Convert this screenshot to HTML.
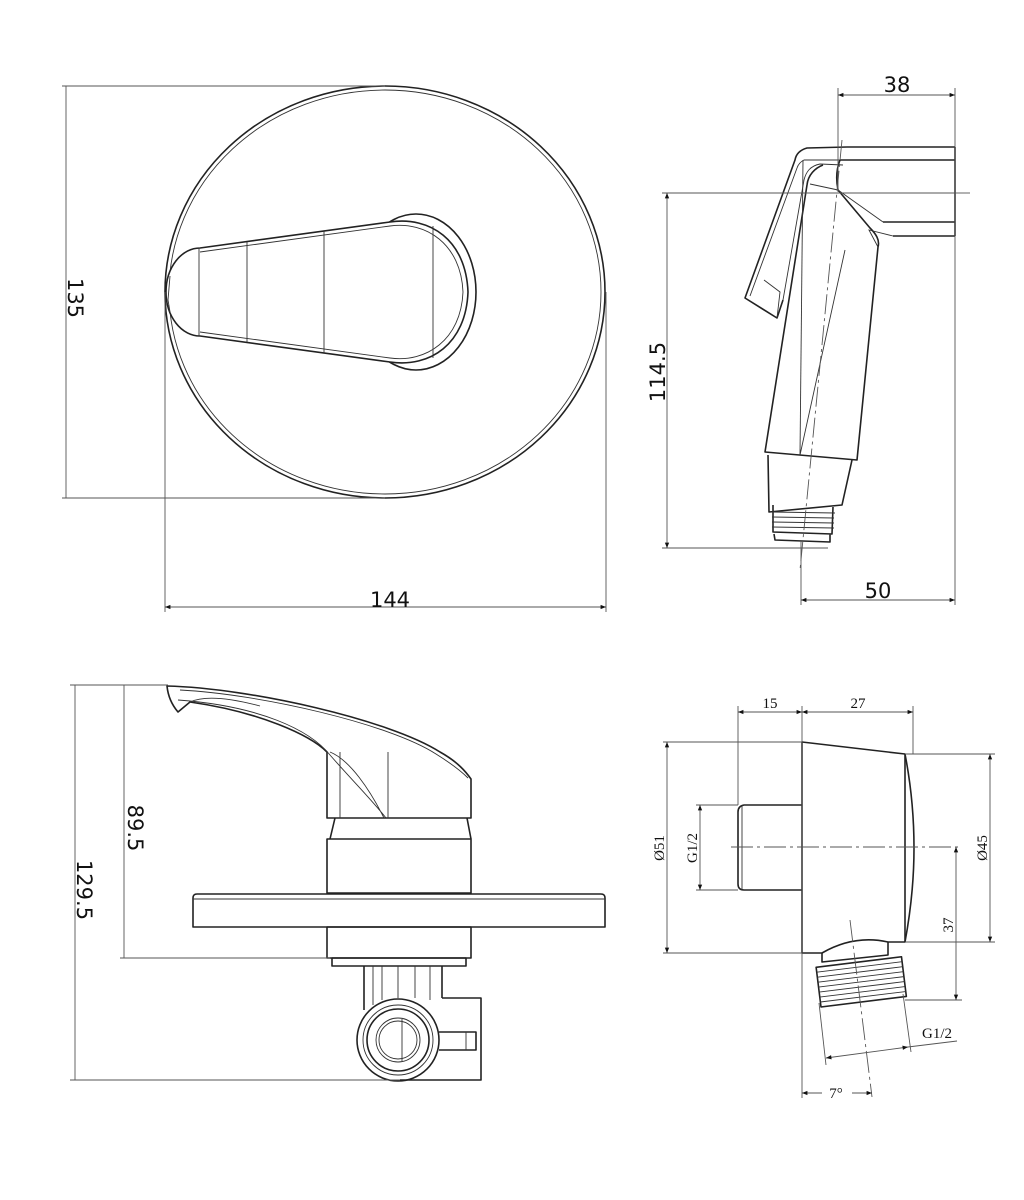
<!DOCTYPE html>
<html><head><meta charset="utf-8"><style>
html,body{margin:0;padding:0;background:#fff;}
svg{display:block;}
.l{fill:none;stroke:#222;stroke-width:1.6;stroke-linejoin:round;}
.t{fill:none;stroke:#333;stroke-width:0.9;}
.d{fill:none;stroke:#555;stroke-width:0.9;}
.s{font-family:"DejaVu Sans","Liberation Sans",sans-serif;font-size:21px;fill:#111;}
.r{font-family:"Liberation Serif",serif;font-size:15px;fill:#111;}
</style></head><body>
<svg width="1024" height="1200" viewBox="0 0 1024 1200" xmlns="http://www.w3.org/2000/svg">
<defs>
<marker id="a" viewBox="0 0 10 10" refX="10" refY="5" markerWidth="9" markerHeight="6" orient="auto-start-reverse"><path d="M0,1 L10,5 L0,9 z" fill="#111"/></marker>
</defs>

<!-- TOP LEFT -->
<ellipse class="l" cx="385" cy="292" rx="220" ry="206"/>
<ellipse class="t" cx="385" cy="292" rx="216" ry="202"/>
<ellipse class="l" cx="416" cy="292" rx="60" ry="78"/>
<path class="l" style="fill:#fff" d="M200,248 L390,222 C430,216 466,240 468,292 C466,344 430,368 390,362 L200,336 A34,44 0 0 1 200,248 Z"/>
<path class="t" d="M200,252 L390,226 C426,221 461,244 463,292 C461,340 426,363 390,358 L200,332"/>
<path class="t" d="M170,276 L168,300 L170,312"/>
<line class="t" x1="199" y1="248" x2="199" y2="336"/>
<line class="t" x1="247" y1="242" x2="247" y2="342"/>
<line class="t" x1="324" y1="231" x2="324" y2="353"/>
<line class="t" x1="433" y1="226" x2="433" y2="358"/>
<!-- dims -->
<line class="d" x1="62" y1="86" x2="385" y2="86"/>
<line class="d" x1="62" y1="498" x2="385" y2="498"/>
<line class="d" x1="66" y1="86" x2="66" y2="498"/>
<text class="s" transform="translate(68,298) rotate(90)" text-anchor="middle">135</text>
<line class="d" x1="165" y1="292" x2="165" y2="612"/>
<line class="d" x1="606" y1="292" x2="606" y2="612"/>
<line class="d" x1="165" y1="607" x2="606" y2="607" marker-start="url(#a)" marker-end="url(#a)"/>
<text class="s" x="390" y="607" text-anchor="middle">144</text>

<!-- TOP RIGHT hand shower -->
<path class="l" d="M847,147 L955,147 M840,160 L955,160 M883,222 L955,222 M893,236 L955,236 M955,147 L955,236"/>
<path class="l" d="M847,147 L807,148 C800,150 796,154 795,160 L745,298 L777,318 L783,300"/>
<path class="t" d="M840,160 L804,160 C800,162 798,165 797,168 L750,296 M843,165 L820,164 C810,166 806,172 804,180 L783,300 M764,280 L780,292 L777,318"/>
<path class="l" d="M840,160 C836,170 836,180 838,190 L870,228 C876,234 880,240 878,247 L857,460 L765,452 L807,185 C808,175 815,168 823,165"/>
<path class="t" d="M838,190 L810,184 M838,190 L883,222 M878,247 L869,230 L893,236 M845,250 L800,455"/>
<path class="t" d="M803,160 L800,455"/>
<path class="l" d="M768,455 L769,512 L842,505 L852,460 M773,505 L773,532 L832,534 L833,507 M774,534 L775,540 L830,542 L830,534"/>
<path class="t" d="M772,512 L835,513 M772,517 L834,518 M772,522 L834,523 M772,527 L834,528"/>
<line class="d" x1="842" y1="140" x2="800" y2="570" stroke-dasharray="20,4,3,4"/>
<!-- dims -->
<line class="d" x1="838" y1="88" x2="838" y2="192"/>
<line class="d" x1="955" y1="88" x2="955" y2="605"/>
<line class="d" x1="838" y1="95" x2="955" y2="95" marker-start="url(#a)" marker-end="url(#a)"/>
<text class="s" x="897" y="92" text-anchor="middle">38</text>
<line class="d" x1="662" y1="193" x2="955" y2="193"/>
<line class="d" x1="955" y1="193" x2="970" y2="193"/>
<line class="d" x1="662" y1="548" x2="828" y2="548"/>
<line class="d" x1="667" y1="193" x2="667" y2="548" marker-start="url(#a)" marker-end="url(#a)"/>
<text class="s" transform="translate(665,372) rotate(-90)" text-anchor="middle">114.5</text>
<line class="d" x1="801" y1="540" x2="801" y2="605"/>
<line class="d" x1="801" y1="600" x2="955" y2="600" marker-start="url(#a)" marker-end="url(#a)"/>
<text class="s" x="878" y="598" text-anchor="middle">50</text>

<!-- BOTTOM LEFT -->
<path class="l" d="M167,686 C250,688 390,720 440,752 C458,762 466,772 471,779 L471,818 L327,818 L327,752 C310,735 260,712 190,702 L178,712 C172,705 168,696 167,686 Z"/>
<path class="t" d="M180,690 C260,694 390,724 436,754 C452,764 462,772 468,778 M178,700 C260,706 310,730 330,755 C350,778 372,800 386,818 M340,752 L340,818 M388,752 L388,818 M330,752 C350,760 370,790 384,818 M190,702 C205,695 230,698 260,706"/>
<path class="l" d="M335,818 L330,839 M467,818 L471,839"/>
<rect class="l" x="327" y="839" width="144" height="54"/>
<path class="l" d="M197,894 L601,894 Q605,894 605,898 L605,927 L193,927 L193,898 Q193,894 197,894 Z"/>
<line class="t" x1="193" y1="899" x2="605" y2="899"/>
<rect class="l" x="327" y="927" width="144" height="31"/>
<rect class="l" x="332" y="958" width="134" height="8"/>
<path class="l" d="M364,966 L364,1010 M442,966 L442,998 M442,998 L481,998 L481,1080 L400,1080"/>
<path class="t" d="M373,966 L373,1005 M382,966 L382,1000 M398,966 L398,998 M415,966 L415,998 M430,966 L430,1000"/>
<circle class="l" cx="398" cy="1040" r="41"/>
<circle class="t" cx="398" cy="1040" r="35"/>
<circle class="l" cx="398" cy="1040" r="31"/>
<circle class="t" cx="398" cy="1040" r="22"/>
<circle class="t" cx="398" cy="1040" r="19"/>
<line class="t" x1="402" y1="1019" x2="402" y2="1061"/>
<path class="l" d="M439,1032 L476,1032 L476,1050 L439,1050"/>
<line class="t" x1="466" y1="1032" x2="466" y2="1050"/>
<!-- dims -->
<line class="d" x1="70" y1="685" x2="168" y2="685"/>
<line class="d" x1="70" y1="1080" x2="400" y2="1080"/>
<line class="d" x1="120" y1="958" x2="330" y2="958"/>
<line class="d" x1="75" y1="685" x2="75" y2="1080"/>
<line class="d" x1="124" y1="685" x2="124" y2="958"/>
<text class="s" transform="translate(128,828) rotate(90)" text-anchor="middle">89.5</text>
<text class="s" transform="translate(77,890) rotate(90)" text-anchor="middle">129.5</text>

<!-- BOTTOM RIGHT -->
<path class="l" d="M802,742 L905,754 L905,942 L888,942 C870,938 848,938 822,953 L802,953 Z"/>
<path class="l" d="M905,754 C912,790 914,820 914,848 C914,880 910,915 905,942"/>
<path class="l" d="M802,805 L744,805 Q738,806 738,812 L738,884 Q738,890 744,890 L802,890"/>
<line class="t" x1="742" y1="805" x2="742" y2="890"/>
<line class="d" x1="731" y1="847" x2="962" y2="847" stroke-dasharray="22,4,3,4"/>
<path class="l" d="M822,953 L822,962 L888,955 L888,942"/>
<g transform="rotate(-7 860 980)">
<rect class="l" x="818" y="962" width="86" height="40"/>
<path class="t" d="M818,967 L904,967 M818,972 L904,972 M818,977 L904,977 M818,982 L904,982 M818,987 L904,987 M818,992 L904,992 M818,997 L904,997"/>
</g>
<line class="d" x1="850" y1="920" x2="872" y2="1097" stroke-dasharray="22,4,3,4"/>
<!-- dims -->
<line class="d" x1="738" y1="706" x2="738" y2="805"/>
<line class="d" x1="802" y1="706" x2="802" y2="1098"/>
<line class="d" x1="913" y1="706" x2="913" y2="754"/>
<line class="d" x1="738" y1="712" x2="802" y2="712" marker-start="url(#a)" marker-end="url(#a)"/>
<line class="d" x1="802" y1="712" x2="913" y2="712" marker-start="url(#a)" marker-end="url(#a)"/>
<text class="r" x="770" y="708" text-anchor="middle">15</text>
<text class="r" x="858" y="708" text-anchor="middle">27</text>
<line class="d" x1="663" y1="742" x2="802" y2="742"/>
<line class="d" x1="663" y1="953" x2="802" y2="953"/>
<line class="d" x1="667" y1="742" x2="667" y2="953" marker-start="url(#a)" marker-end="url(#a)"/>
<text class="r" transform="translate(664,848) rotate(-90)" text-anchor="middle">Ø51</text>
<line class="d" x1="696" y1="805" x2="738" y2="805"/>
<line class="d" x1="696" y1="890" x2="738" y2="890"/>
<line class="d" x1="700" y1="805" x2="700" y2="890" marker-start="url(#a)" marker-end="url(#a)"/>
<text class="r" transform="translate(697,848) rotate(-90)" text-anchor="middle">G1/2</text>
<line class="d" x1="905" y1="754" x2="995" y2="754"/>
<line class="d" x1="905" y1="942" x2="995" y2="942"/>
<line class="d" x1="990" y1="754" x2="990" y2="942" marker-start="url(#a)" marker-end="url(#a)"/>
<text class="r" transform="translate(987,848) rotate(-90)" text-anchor="middle">Ø45</text>
<line class="d" x1="905" y1="1000" x2="962" y2="1000"/>
<line class="d" x1="956" y1="847" x2="956" y2="1000" marker-start="url(#a)" marker-end="url(#a)"/>
<text class="r" transform="translate(953,925) rotate(-90)" text-anchor="middle">37</text>
<line class="d" x1="819" y1="1003" x2="826" y2="1065"/>
<line class="d" x1="903" y1="994" x2="911" y2="1052"/>
<line class="d" x1="826" y1="1058" x2="908" y2="1047" marker-start="url(#a)" marker-end="url(#a)"/>
<line class="d" x1="908" y1="1047" x2="957" y2="1041"/>
<text class="r" x="937" y="1038" text-anchor="middle">G1/2</text>
<line class="d" x1="802" y1="1093" x2="822" y2="1093" marker-start="url(#a)"/>
<line class="d" x1="852" y1="1093" x2="872" y2="1093" marker-end="url(#a)"/>
<text class="r" x="836" y="1098" text-anchor="middle">7°</text>
</svg>
</body></html>
